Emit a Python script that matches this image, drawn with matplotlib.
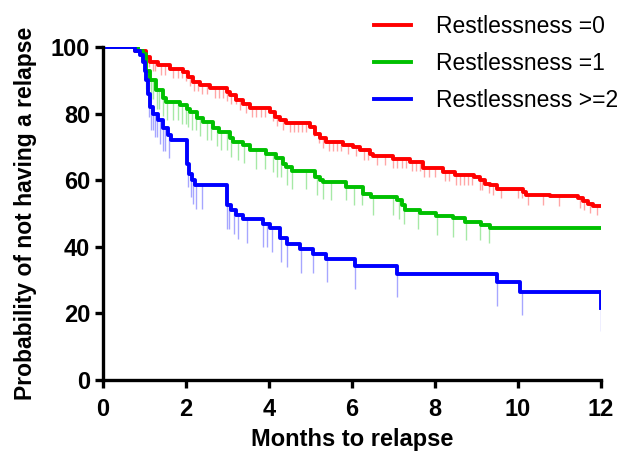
import numpy as np
import matplotlib
matplotlib.use("Agg")
import matplotlib.pyplot as plt

plt.rcParams['font.family'] = ['Liberation Sans', 'DejaVu Sans']

# step curves: time (months) and survival (%)
red_t = [0, 0.77, 1.05, 1.13, 1.33, 1.61, 1.94, 2.06, 2.18, 2.34, 2.58, 2.98, 3.06, 3.22,
         3.38, 3.54, 4.02, 4.14, 4.26, 4.42, 4.99, 5.11, 5.23, 5.39, 5.79, 6.03, 6.19, 6.43,
         6.5, 7.0, 7.4, 7.72, 8.2, 8.48, 8.95, 9.08, 9.2, 9.33, 9.49, 10.13, 10.2, 10.77,
         11.45, 11.57, 11.69, 11.81, 12.0]
red_s = [100, 99, 97, 95.6, 94.6, 93.6, 92.6, 91, 89.6, 88.6, 87.6, 86.6, 85.6, 84,
         83, 81.7, 80.6, 79, 78, 77.3, 76, 74, 72.6, 71.6, 70.6, 70, 69, 68,
         67.3, 66.5, 65.5, 63.7, 62.5, 61.5, 61, 60, 59, 58.5, 57.5, 56.5, 55.5, 55.2,
         54.6, 53.8, 53, 52.3, 52.3]

green_t = [0, 0.85, 0.97, 1.05, 1.13, 1.29, 1.45, 1.53, 1.86, 2.02, 2.1, 2.26, 2.41, 2.65,
           2.8, 3.06, 3.14, 3.38, 3.54, 3.94, 4.18, 4.34, 4.42, 4.55, 5.11, 5.23, 5.31,
           5.87, 6.27, 6.47, 7.08, 7.2, 7.28, 7.64, 8.04, 8.44, 8.72, 9.12, 9.33, 12.0]
green_s = [100, 99, 98, 93, 90, 87, 84.7, 83.5, 82.5, 81.5, 80.5, 78.7, 77.5, 75.7,
           74.6, 72.6, 71.6, 70.6, 69, 68, 66.6, 65, 64, 62.8, 61, 60, 59.5,
           58, 56, 55, 54, 52.5, 51, 50.3, 49.2, 48.6, 47.6, 46.6, 45.6, 45.6]

blue_t = [0, 0.77, 0.89, 0.97, 1.01, 1.05, 1.09, 1.13, 1.21, 1.33, 1.45, 1.57, 1.65,
          2.02, 2.08, 2.15, 2.22, 2.98, 3.1, 3.22, 3.38, 3.86, 4.02, 4.27, 4.43, 4.75,
          5.07, 5.39, 6.07, 7.1, 9.49, 10.05, 12.0]
blue_s = [100, 99, 97.6, 95.6, 93, 90, 86, 82, 80, 78, 75.7, 73.6, 72,
          65, 62, 60, 58.5, 52.5, 51, 49.5, 48.3, 47, 45.6, 42.6, 41, 39.3,
          37.8, 36.3, 34.2, 31.8, 29.3, 26.5, 21.6]

# censored observations (months)
red_cens = [1.0, 1.1, 1.2, 1.25, 1.4, 1.5, 1.7, 1.8, 1.9, 2.0, 2.1, 2.2, 2.3, 2.4, 2.5, 2.7,
            2.8, 2.9, 3.0, 3.1, 3.2, 3.3, 3.45, 3.6, 3.7, 3.8, 3.9, 4.1, 4.2, 4.35, 4.5,
            4.6, 4.7, 4.8, 4.9, 5.1, 5.2, 5.3, 5.45, 5.55, 5.65, 5.75, 5.9, 6.1, 6.3, 6.4,
            6.6, 6.8, 7.0, 7.1, 7.2, 7.3, 7.45, 7.55, 7.65, 7.75, 7.85, 8.0, 8.25, 8.35,
            8.5, 8.6, 8.7, 8.8, 8.9, 9.1, 9.15, 9.3, 9.4, 9.6, 10.0, 10.1, 10.25, 10.6,
            11.0, 11.5, 11.6, 11.75, 11.9]
green_cens = [1.05, 1.1, 1.15, 1.2, 1.3, 1.35, 1.45, 1.55, 1.7, 1.8, 1.9, 2.0, 2.05, 2.15,
              2.25, 2.35, 2.5, 2.6, 2.75, 2.85, 3.0, 3.1, 3.25, 3.4, 3.7, 3.9, 4.1, 4.2,
              4.3, 4.45, 4.55, 4.9, 5.15, 5.3, 5.5, 5.85, 6.05, 6.25, 6.5, 7.0, 7.15, 7.25,
              7.6, 8.05, 8.45, 8.75, 9.1, 9.3]
blue_cens = [1.1, 1.15, 1.2, 1.25, 1.3, 1.38, 1.45, 1.5, 1.6, 2.05, 2.12, 2.18, 2.25, 2.4,
             3.0, 3.05, 3.15, 3.25, 3.47, 3.86, 3.95, 4.07, 4.3, 4.43, 4.77, 5.06, 5.4,
             6.07, 7.1, 9.5, 10.1, 12.0]

labels = ["Restlessness =0", "Restlessness =1", "Restlessness >=2"]
colors = ["#ff0000", "#00c000", "#0000ff"]
tick_len = [2.8, 5.5, 7]


def value_at(t_arr, s_arr, t):
    i = np.searchsorted(t_arr, t, side="right") - 1
    return s_arr[max(i, 0)]


fig = plt.figure(figsize=(6.35, 4.54), dpi=100)
ax = fig.add_axes([0.162, 0.163, 0.784, 0.733])

series = [(red_t, red_s, red_cens), (green_t, green_s, green_cens), (blue_t, blue_s, blue_cens)]
for (t, s, cens), lab, col, tl in zip(series, labels, colors, tick_len):
    # censor ticks first, lighter
    for c in cens:
        y = value_at(t, s, c)
        ax.plot([c, c], [y, y - tl], color=col, alpha=0.35, lw=1.0, solid_capstyle="butt")
    ax.step(t, s, where="post", color=col, lw=2.8, label=lab)

ax.set_xlim(0, 12)
ax.set_ylim(0, 100)
ax.set_xticks([0, 2, 4, 6, 8, 10, 12])
ax.set_yticks([0, 20, 40, 60, 80, 100])
for sp in ["top", "right"]:
    ax.spines[sp].set_visible(False)
for sp in ["left", "bottom"]:
    ax.spines[sp].set_linewidth(2.4)
ax.tick_params(direction="out", length=6, width=2.4, labelsize=17, pad=3)
ax.tick_params(axis="x", pad=7)
for lbl in ax.get_xticklabels() + ax.get_yticklabels():
    lbl.set_fontweight("bold")

ax.set_xlabel("Months to relapse", fontsize=17, fontweight="bold", labelpad=5)
ax.set_ylabel("Probability of not having a relapse", fontsize=16.5, fontweight="bold", labelpad=10)

leg = ax.legend(loc="upper left", bbox_to_anchor=(0.557, 1.012), bbox_transform=fig.transFigure,
                frameon=False, fontsize=16.5, handlelength=1.6, handletextpad=1.1,
                labelspacing=0.6)
for h in leg.get_lines():
    h.set_linewidth(2.8)

fig.savefig("out.png", dpi=100)
